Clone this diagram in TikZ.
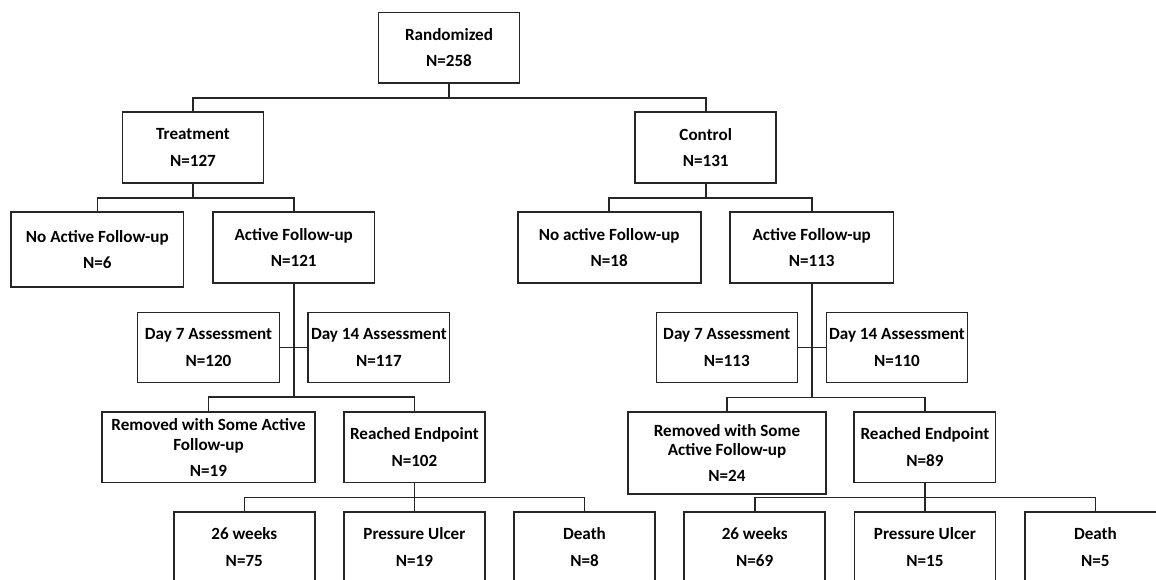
\documentclass[tikz,border=0pt]{standalone}
\usepackage{fontspec}
\setmainfont{Carlito}
\definecolor{ink}{HTML}{262626}
\begin{document}
\begin{tikzpicture}[x=1pt,y=-1pt,
  box/.style={draw=ink, line width=1.6pt, inner sep=0pt, outer sep=0pt, align=center,
    font=\fontsize{17.1}{19.7}\selectfont\bfseries, text=black, minimum width=141pt, minimum height=71pt},
  conn/.style={draw=ink, line width=1.6pt}]
\useasboundingbox (0,0) rectangle (1156,579);
\clip (0,0) rectangle (1156,579);
\fill[white] (0,0) rectangle (1156,579);
% level 1
\node[box, minimum height=70.4pt] (rand) at (449,47.5) {Randomized\\[7pt]N=258};
% level 2
\node[box] (treat) at (193,147.5) {Treatment\\[7pt]N=127};
\node[box] (ctrl) at (705.7,147.5) {Control\\[7pt]N=131};
% level 3
\node[box, minimum width=172.5pt, minimum height=75pt] (noT) at (97.3,249.5) {No Active Follow-up\\[7pt]N=6};
\node[box, minimum width=161.7pt] (actT) at (293.7,247.5) {Active Follow-up\\[7pt]N=121};
\node[box, minimum width=183pt] (noC) at (609.2,247.5) {No active Follow-up\\[7pt]N=18};
\node[box, minimum width=163.5pt] (actC) at (811.7,247.5) {Active Follow-up\\[7pt]N=113};
% assessments
\node[box, minimum width=141.7pt, minimum height=70pt] (d7T) at (208.5,347.3) {Day 7 Assessment\\[7pt]N=120};
\node[box, minimum width=141.3pt, minimum height=70pt] (d14T) at (378.9,347.3) {Day 14 Assessment\\[7pt]N=117};
\node[box, minimum width=141pt, minimum height=70pt] (d7C) at (726.8,347.3) {Day 7 Assessment\\[7pt]N=113};
\node[box, minimum width=141pt, minimum height=70pt] (d14C) at (897,347.3) {Day 14 Assessment\\[7pt]N=110};
% removed / reached
\node[box, minimum width=212.7pt, minimum height=70.7pt] (remT) at (208.5,447.3) {Removed with Some Active\\Follow-up\\[6pt]N=19};
\node[box, minimum width=141.3pt, minimum height=70.7pt] (reachT) at (414.4,447.3) {Reached Endpoint\\[7pt]N=102};
\node[box, minimum width=197.5pt, minimum height=81.7pt] (remC) at (727,452.9) {Removed with Some\\Active Follow-up\\[6pt]N=24};
\node[box, minimum width=141.3pt, minimum height=70.7pt] (reachC) at (924.9,447.3) {Reached Endpoint\\[7pt]N=89};
% outcomes
\node[box] (wkT) at (244.3,547.2) {26 weeks\\[7pt]N=75};
\node[box] (puT) at (414.4,547.2) {Pressure Ulcer\\[7pt]N=19};
\node[box] (dT) at (584.5,547.2) {Death\\[7pt]N=8};
\node[box] (wkC) at (754.7,547.2) {26 weeks\\[7pt]N=69};
\node[box] (puC) at (924.9,547.2) {Pressure Ulcer\\[7pt]N=15};
\node[box] (dC) at (1095.4,547.2) {Death\\[7pt]N=5};
% connectors
\draw[conn] (rand.south) -- ++(0,15.2);
\draw[conn] (treat.north) -- ++(0,-14.3) -| (ctrl.north);
\draw[conn] (treat.south) -- ++(0,14.7);
\draw[conn] (noT.north) -- ++(0,-14.3) -| (actT.north);
\draw[conn] (ctrl.south) -- ++(0,14.7);
\draw[conn] (noC.north) -- ++(0,-14.3) -| (actC.north);
% treatment arm
\coordinate (jT) at (actT.south |- remT.north);
\draw[conn] (actT.south) -- ([yshift=14.7pt]jT);
\draw[conn] (d7T.east) -- (d14T.west);
\draw[conn] (remT.north) -- ++(0,-14.7) -| (reachT.north);
\draw[conn] (wkT.north) -- ++(0,-14.4) -| (dT.north);
\draw[conn] (reachT.south) -- (puT.north);
% control arm
\coordinate (jC) at (actC.south |- remC.north);
\draw[conn] (actC.south) -- ([yshift=14.7pt]jC);
\draw[conn] (d7C.east) -- (d14C.west);
\draw[conn] (remC.north) -- ++(0,-14.7) -| (reachC.north);
\draw[conn] (wkC.north) -- ++(0,-14.4) -| (dC.north);
\draw[conn] (reachC.south) -- (puC.north);
\end{tikzpicture}
\end{document}
